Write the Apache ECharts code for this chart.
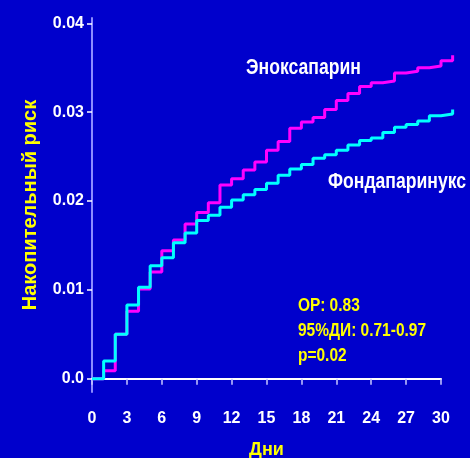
<!DOCTYPE html>
<html><head><meta charset="utf-8">
<script src="https://cdn.jsdelivr.net/npm/echarts@6/dist/echarts.min.js"></script>
<style>html,body{margin:0;padding:0;background:#0000CC;overflow:hidden;}#c{width:470px;height:458px;}</style>
</head><body><div id="c"></div>
<script>
const days = [0,1,2,3,4,5,6,7,8,9,10,11,12,13,14,15,16,17,18,19,20,21,22,23,24,25,26,27,28,29,30,31];
const enoxaparin = [0,0.0009,0.0050,0.0076,0.0101,0.0120,0.0144,0.0156,0.0174,0.0187,0.0198,0.0218,0.0225,0.0235,0.0244,0.0257,0.0267,0.0282,0.0289,0.0294,0.0303,0.0313,0.0321,0.0329,0.0333,0.0335,0.0344,0.0346,0.0350,0.0352,0.0358,0.0364];
const fondaparinux = [0,0.0020,0.0050,0.0083,0.0103,0.0127,0.0136,0.0153,0.0164,0.0178,0.0184,0.0193,0.0201,0.0207,0.0213,0.0220,0.0229,0.0236,0.0241,0.0248,0.0252,0.0257,0.0263,0.0268,0.0271,0.0277,0.0283,0.0286,0.0290,0.0296,0.0298,0.0303];
const yTicks = [0,0.01,0.02,0.03,0.04];
const seriesNames = ['Эноксапарин','Фондапаринукс'];
const statsLines = ['ОР: 0.83','95%ДИ: 0.71-0.97','p=0.02'];
const xTitle = 'Дни';
const yTitle = 'Накопительный риск';

const SANS = '"Liberation Sans",Arial,sans-serif';
const X_MAX_AXIS = 30, X_MAX_DATA = 31;
const LEFT = 92, RIGHT = 29, TOP = 18, BOTTOM = 66, W = 470;
const perDay = (W - LEFT - RIGHT) / X_MAX_AXIS;
const RIGHT2 = RIGHT - perDay * (X_MAX_DATA - X_MAX_AXIS);
const Y_MIN = -0.0015, Y_MAX = 0.0406;

const chart = echarts.init(document.getElementById('c'), null, {renderer:'canvas'});
const pairs = a => days.map((d,i)=>[d,a[i]]);
chart.setOption({
  backgroundColor:'#0000CC',
  animation:false,
  grid:[
    {left:LEFT,right:RIGHT,top:TOP,bottom:BOTTOM,containLabel:false,outerBoundsMode:'none'},
    {left:LEFT,right:RIGHT2,top:TOP,bottom:BOTTOM,containLabel:false,outerBoundsMode:'none'}
  ],
  xAxis:[{
    type:'value',min:0,max:X_MAX_AXIS,interval:3,gridIndex:0,
    axisLine:{show:true,lineStyle:{color:'#ffffff',width:2}},
    axisTick:{show:true,length:6,lineStyle:{color:'#c8c8ff',width:1.5}},
    axisLabel:{color:'#ffffff',fontWeight:'bold',fontSize:16,fontFamily:SANS,margin:19},
    splitLine:{show:false},
    name:xTitle,nameLocation:'middle',nameGap:49,
    nameTextStyle:{color:'#ffff00',fontWeight:'bold',fontSize:18,fontFamily:SANS}
  },{
    type:'value',min:0,max:X_MAX_DATA,gridIndex:1,show:false
  }],
  yAxis:[{
    type:'value',min:Y_MIN,max:Y_MAX,gridIndex:0,
    axisLine:{show:true,lineStyle:{color:'#8c8cff',width:2}},
    axisTick:{show:true,length:5,customValues:yTicks,lineStyle:{color:'#ffffff',width:1.5}},
    axisLabel:{customValues:yTicks,color:'#ffffff',fontWeight:'bold',fontSize:16,fontFamily:SANS,margin:8,
      formatter:v=> v===0?'0.0':v.toFixed(2)},
    splitLine:{show:false},
    name:yTitle,nameLocation:'middle',nameGap:52,nameRotate:90,
    nameTextStyle:{color:'#ffff00',fontWeight:'bold',fontSize:20,fontFamily:SANS}
  },{
    type:'value',min:Y_MIN,max:Y_MAX,gridIndex:1,show:false
  }],
  series:[
    {name:seriesNames[0],type:'line',step:'end',xAxisIndex:1,yAxisIndex:1,data:pairs(enoxaparin),showSymbol:false,clip:false,
     lineStyle:{color:'#ff00ff',width:3},z:2},
    {name:seriesNames[1],type:'line',step:'end',xAxisIndex:1,yAxisIndex:1,data:pairs(fondaparinux),showSymbol:false,clip:false,
     lineStyle:{color:'#00ffff',width:3},z:3}
  ],
  graphic:[
    {type:'text',x:246,y:57,scaleX:0.8,style:{text:seriesNames[0],fill:'#ffffff',font:'bold 22px '+SANS}},
    {type:'text',x:328,y:171,scaleX:0.8,style:{text:seriesNames[1],fill:'#ffffff',font:'bold 22px '+SANS}},
    {type:'text',x:298,y:294,scaleX:0.86,style:{text:statsLines.join('\n'),fill:'#ffff00',font:'bold 18px '+SANS,lineHeight:25}}
  ]
});
</script></body></html>
